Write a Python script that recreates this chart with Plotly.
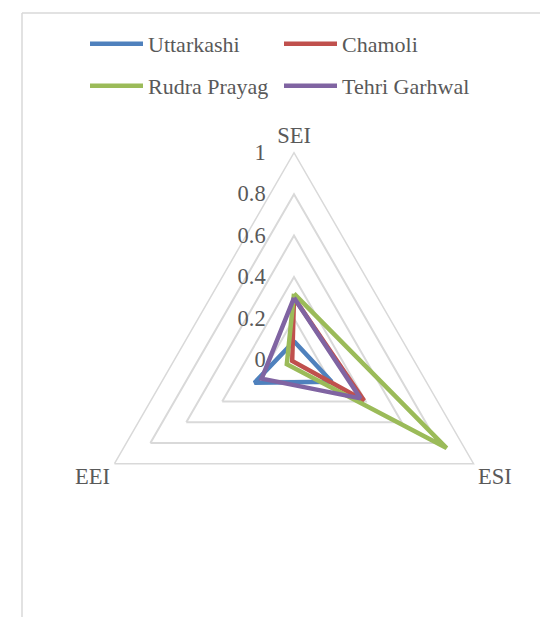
import plotly.graph_objects as go

# radar axes (clockwise from top)
categories = ['SEI', 'ESI', 'EEI']

districts = ['Uttarkashi', 'Chamoli', 'Rudra Prayag', 'Tehri Garhwal']
uttarkashi = [0.09, 0.21, 0.22]
chamoli = [0.30, 0.39, 0.01]
rudra_prayag = [0.32, 0.85, 0.04]
tehri_garhwal = [0.30, 0.37, 0.18]

radial_ticks = [0, 0.2, 0.4, 0.6, 0.8, 1]
tick_labels = ['0', '0.2', '0.4', '0.6', '0.8', '1']

colors = ['#4F81BD', '#C0504D', '#9BBB59', '#8064A2']
legend_ids = ['legend', 'legend', 'legend2', 'legend2']
font_name = 'Liberation Serif'
text_color = '#595959'
serif = dict(family=font_name, size=22.5, color=text_color)
legend_font = dict(family=font_name, size=22, color=text_color)

fig = go.Figure()
for name, vals, col, lg in zip(districts, [uttarkashi, chamoli, rudra_prayag, tehri_garhwal], colors, legend_ids):
    fig.add_trace(go.Scatterpolar(
        r=vals + vals[:1], theta=categories + categories[:1],
        mode='lines', name=name, legend=lg,
        line=dict(color=col, width=4.5)))

# polar centre / radius in pixels (shifted to compensate plotly's placement)
cx, cy, rad = 286, 352, 207.3

fig.update_layout(
    width=548, height=617,
    margin=dict(l=0, r=0, t=0, b=0),
    paper_bgcolor='white',
    font=serif,
    legend=dict(orientation='h', xanchor='left', yanchor='middle', x=77 / 548, y=1 - 36 / 617,
                entrywidth=126, itemwidth=53, bgcolor='rgba(0,0,0,0)'),
    legend2=dict(orientation='h', xanchor='left', yanchor='middle', x=77 / 548, y=1 - 78 / 617,
                 entrywidth=126, itemwidth=53, bgcolor='rgba(0,0,0,0)'),
    polar=dict(
        domain=dict(x=[(cx - rad) / 548, (cx + rad) / 548], y=[1 - (cy + rad) / 617, 1 - (cy - rad) / 617]),
        gridshape='linear',
        bgcolor='rgba(0,0,0,0)',
        radialaxis=dict(range=[0, 1], tickvals=radial_ticks, ticktext=tick_labels,
                        angle=90, side='counterclockwise', showline=False, tickangle=90,
                        ticks='outside', ticklen=20, tickcolor='rgba(0,0,0,0)',
                        gridcolor='#D9D9D9', gridwidth=1.5, tickfont=serif),
        angularaxis=dict(rotation=90, direction='clockwise', showgrid=False,
                         showline=True, linecolor='#D9D9D9', linewidth=1.5,
                         ticks='', tickfont=serif),
    ),
    shapes=[
        # chart area border (left and top edges visible)
        dict(type='line', xref='paper', yref='paper', x0=14 / 548, x1=14 / 548, y0=-0.1, y1=1 - 5 / 617,
             line=dict(color='#D9D9D9', width=1.5)),
        dict(type='line', xref='paper', yref='paper', x0=14 / 548, x1=1.1, y0=1 - 5 / 617, y1=1 - 5 / 617,
             line=dict(color='#D9D9D9', width=1.5)),
    ],
)
fig.update_layout(legend_font=legend_font, legend2_font=legend_font)

fig.write_html('out.html')
